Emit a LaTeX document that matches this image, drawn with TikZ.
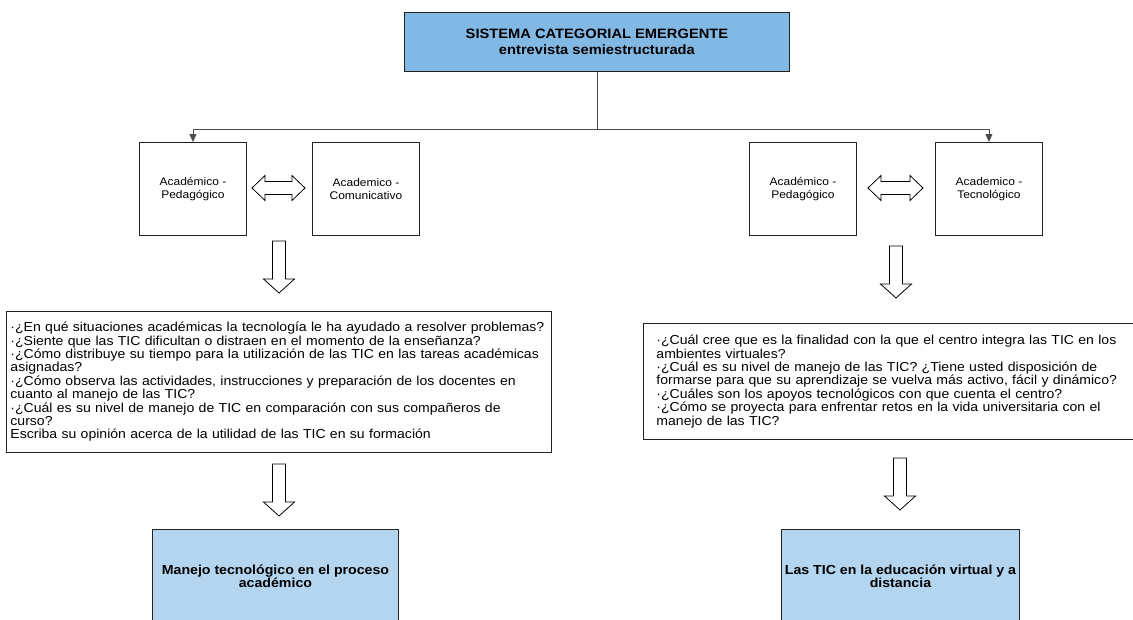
\documentclass[tikz,border=0pt]{standalone}
\usepackage{fontspec}
\setmainfont[FakeStretch=1.08]{Liberation Sans}
\usetikzlibrary{arrows.meta}
\definecolor{topblue}{HTML}{82B8E4}
\definecolor{lightblue}{HTML}{B3D5EF}
\definecolor{edge}{HTML}{222222}
\tikzset{
  box/.style={draw=edge, line width=0.9pt, inner sep=0pt, align=center, anchor=north west},
  smallbox/.style={box, minimum width=107pt, minimum height=93pt, font=\fontsize{11.1}{12.5}\selectfont},
  qbox/.style={box, align=left, font=\fontsize{13}{13.4}\selectfont},
  resbox/.style={box, fill=lightblue, minimum height=94pt, font=\bfseries\fontsize{13.1}{13.5}\selectfont},
  conn/.style={draw=black!70, line width=0.9pt},
  blockarrow/.style={draw=black, line width=0.8pt, fill=white, line join=miter},
  pics/downarrow/.style={code={
    \draw[blockarrow] (-6.5,0) -- (6.5,0) -- (6.5,38) -- (15.5,38) -- (0,52) -- (-15.5,38) -- (-6.5,38) -- cycle;}},
  pics/dblarrow/.style={code={
    \draw[blockarrow] (0,0) -- (13,-12.5) -- (13,-6.5) -- (#1-13,-6.5) -- (#1-13,-12.5) -- (#1,0)
      -- (#1-13,12.5) -- (#1-13,6.5) -- (13,6.5) -- (13,12.5) -- cycle;}}
}
\begin{document}
\begin{tikzpicture}[x=1pt,y=-1pt]
\clip (0,0) rectangle (1133,619);
\fill[white] (0,0) rectangle (1133,619);

\node[box, fill=topblue, minimum width=385pt, minimum height=59pt,
      font=\bfseries\fontsize{13.6}{15.5}\selectfont] (top) at (404,12)
  {SISTEMA CATEGORIAL EMERGENTE\\entrevista semiestructurada};

\node[smallbox] (L1) at (139,142) {Académico -\\Pedagógico};
\node[smallbox] (L2) at (312,142) {Academico -\\Comunicativo};
\node[smallbox] (R1) at (749,142) {Académico -\\Pedagógico};
\node[smallbox] (R2) at (935,142) {Academico -\\Tecnológico};

\draw[conn] (top.south) -- ++(0,58) coordinate (j);
\draw[conn, -{Triangle[length=8pt,width=7pt]}] (j) -| (L1.north);
\draw[conn, -{Triangle[length=8pt,width=7pt]}] (j) -| (R2.north);

\pic at (252,188) {dblarrow=53};
\pic at (868,188) {dblarrow=55};
\pic at (279,241) {downarrow};
\pic at (896,246) {downarrow};

\node[qbox, minimum width=545pt, minimum height=141pt, inner xsep=4pt, text width=537pt] (QL) at (6,311)
{·¿En qué situaciones académicas la tecnología le ha ayudado a resolver problemas?\\
·¿Siente que las TIC dificultan o distraen en el momento de la enseñanza?\\
·¿Cómo distribuye su tiempo para la utilización de las TIC en las tareas académicas\\
asignadas?\\
·¿Cómo observa las actividades, instrucciones y preparación de los docentes en\\
cuanto al manejo de las TIC?\\
·¿Cuál es su nivel de manejo de TIC en comparación con sus compañeros de\\
curso?\\
Escriba su opinión acerca de la utilidad de las TIC en su formación};

\node[qbox, minimum width=500pt, minimum height=116pt, inner xsep=13pt, text width=474pt] (QR) at (643,323)
{·¿Cuál cree que es la finalidad con la que el centro integra las TIC en los\\
ambientes virtuales?\\
·¿Cuál es su nivel de manejo de las TIC? ¿Tiene usted disposición de\\
formarse para que su aprendizaje se vuelva más activo, fácil y dinámico?\\
·¿Cuáles son los apoyos tecnológicos con que cuenta el centro?\\
·¿Cómo se proyecta para enfrentar retos en la vida universitaria con el\\
manejo de las TIC?};

\pic at (279,464) {downarrow};
\pic at (900,458) {downarrow};

\node[resbox, minimum width=246pt] (BL) at (152,529) {Manejo tecnológico en el proceso\\académico};
\node[resbox, minimum width=238pt] (BR) at (781,529) {Las TIC en la educación virtual y a\\distancia};
\end{tikzpicture}
\end{document}
